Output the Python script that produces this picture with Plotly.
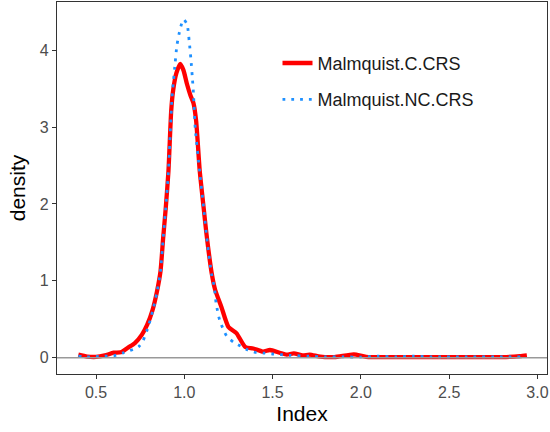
import plotly.graph_objects as go

# Density curves
c_crs_x = [0.40, 0.45, 0.50, 0.55, 0.60, 0.64, 0.68, 0.72, 0.76, 0.79, 0.82, 0.845, 0.865,
           0.88, 0.895, 0.91, 0.926, 0.937, 0.955, 0.977, 0.995, 1.015, 1.035, 1.052, 1.067,
           1.087, 1.109, 1.125, 1.155, 1.175, 1.21, 1.25, 1.295, 1.345, 1.39, 1.445, 1.485,
           1.54, 1.58, 1.62, 1.67, 1.71, 1.77, 1.85, 1.96, 2.03, 2.2, 2.5, 2.8, 2.9, 2.94]
c_crs_y = [0.04, 0.015, 0.01, 0.03, 0.065, 0.07, 0.13, 0.19, 0.30, 0.43, 0.62, 0.86, 1.12,
           1.55, 1.95, 2.42, 3.22, 3.48, 3.70, 3.82, 3.74, 3.56, 3.41, 3.31, 3.08,
           2.44, 1.96, 1.62, 1.10, 0.88, 0.66, 0.40, 0.32, 0.14, 0.12, 0.08, 0.10,
           0.065, 0.04, 0.057, 0.03, 0.04, 0.013, 0.008, 0.044, 0.012, 0.008, 0.008, 0.008, 0.02, 0.03]

nc_crs_x = [0.40, 0.45, 0.50, 0.55, 0.60, 0.65, 0.69, 0.74, 0.766, 0.798, 0.82, 0.845, 0.865,
            0.88, 0.895, 0.91, 0.93, 0.939, 0.948, 0.958, 0.977, 0.995, 1.015, 1.028, 1.037,
            1.045, 1.052, 1.062, 1.087, 1.109, 1.13, 1.155, 1.17, 1.18, 1.20, 1.24, 1.28,
            1.32, 1.36, 1.41, 1.45, 1.50, 1.55, 1.60, 1.70, 1.80, 1.90, 2.00, 2.10, 2.20,
            2.30, 2.40, 2.60, 2.80, 2.905]
nc_crs_y = [0.02, 0.01, 0.015, 0.02, 0.026, 0.06, 0.09, 0.14, 0.22, 0.42, 0.60, 0.85, 1.12,
            1.55, 1.95, 2.42, 3.37, 3.61, 3.83, 4.06, 4.28, 4.40, 4.34, 4.11, 3.89,
            3.66, 3.43, 2.98, 2.42, 1.96, 1.50, 1.08, 0.92, 0.71, 0.49, 0.28, 0.20,
            0.15, 0.10, 0.065, 0.06, 0.048, 0.04, 0.03, 0.02, 0.01, 0.01, 0.008, 0.02, 0.01,
            0.02, 0.01, 0.01, 0.01, 0.01]

series_names = ["Malmquist.C.CRS", "Malmquist.NC.CRS"]
x_ticks = [0.5, 1.0, 1.5, 2.0, 2.5, 3.0]
x_tick_labels = ["0.5", "1.0", "1.5", "2.0", "2.5", "3.0"]
y_ticks = [0, 1, 2, 3, 4]
y_tick_labels = ["0", "1", "2", "3", "4"]

FONT = "Liberation Sans, Arial, Helvetica, sans-serif"

fig = go.Figure()
fig.add_trace(go.Scatter(
    x=c_crs_x, y=c_crs_y, mode="lines", name=series_names[0],
    line=dict(color="#FF0000", width=4.3, shape="spline", smoothing=0.6),
    legendgroup="a",
))
fig.add_trace(go.Scatter(
    x=nc_crs_x, y=nc_crs_y, mode="lines", name=series_names[1],
    line=dict(color="#1E90FF", width=2.8, dash="2.8px,6px", shape="spline", smoothing=0.6),
    legendgroup="b",
))

fig.add_shape(type="line", xref="paper", yref="y", x0=0, x1=1, y0=0, y1=0,
              line=dict(color="#999999", width=1.6), layer="above")

axis_common = dict(
    showgrid=False, zeroline=False, showline=True, linecolor="#333333", linewidth=1.2,
    mirror=True, ticks="outside", tickcolor="#333333", ticklen=4, tickwidth=1.1,
    tickfont=dict(family=FONT, size=16, color="#4D4D4D"), automargin=False,
)

fig.update_layout(
    width=550, height=432,
    margin=dict(l=57, r=3, t=2, b=58),
    paper_bgcolor="white", plot_bgcolor="white",
    font=dict(family=FONT),
    showlegend=True,
    legend=dict(
        x=0.45, y=0.885, xanchor="left", yanchor="top",
        font=dict(family=FONT, size=18, color="#1A1A1A"),
        bgcolor="rgba(255,255,255,0)", itemwidth=30,
        traceorder="grouped", tracegroupgap=10,
    ),
    xaxis=dict(
        range=[0.279, 3.054], tickvals=x_ticks, ticktext=x_tick_labels,
        title=dict(text="Index", font=dict(family=FONT, size=21, color="#000000"), standoff=6),
        **axis_common,
    ),
    yaxis=dict(
        range=[-0.212, 4.626], tickvals=y_ticks, ticktext=y_tick_labels,
        title=dict(text="density", font=dict(family=FONT, size=21, color="#000000"), standoff=8),
        **axis_common,
    ),
)

fig.write_html("out.html", config={"displayModeBar": False},
               post_script="document.body.style.margin='0';")
